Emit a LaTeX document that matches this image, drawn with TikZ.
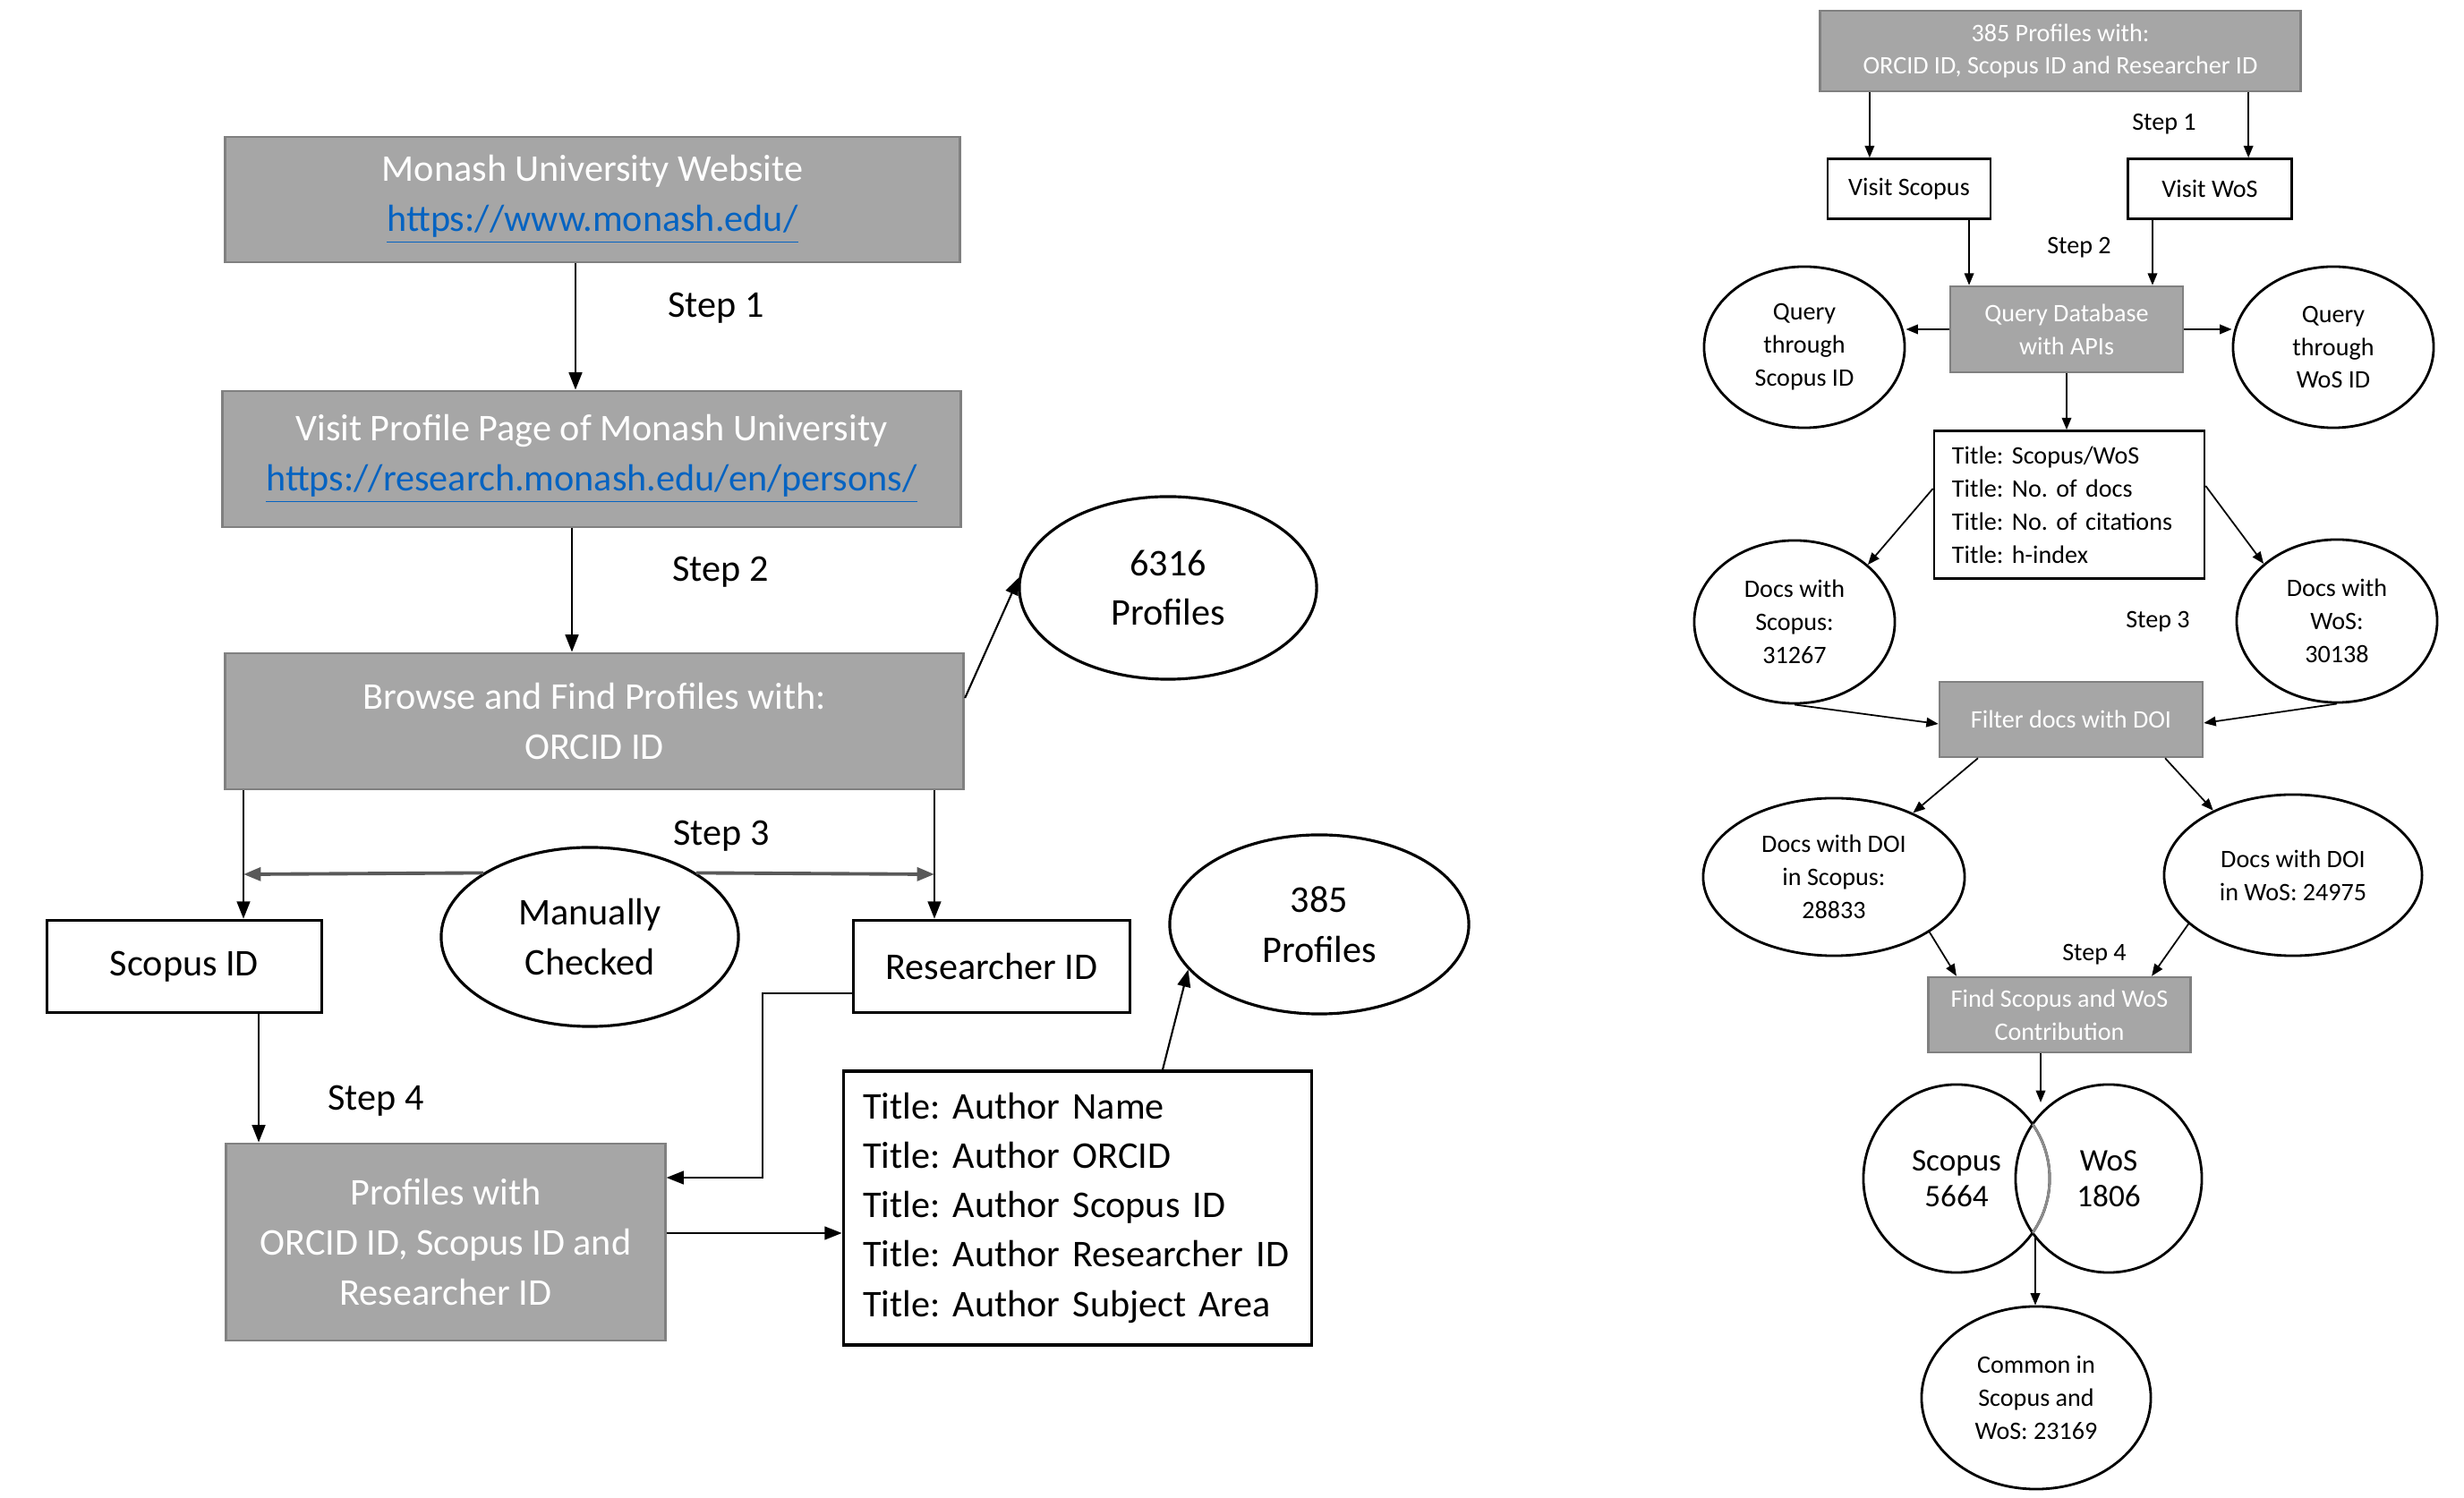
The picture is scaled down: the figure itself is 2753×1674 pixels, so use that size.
\documentclass[tikz,border=0pt]{standalone}
\usepackage{fontspec}
\setmainfont{Carlito}
\usepackage{xcolor}
\usepackage{tikz}
\usetikzlibrary{arrows.meta, shapes.geometric, calc}
\definecolor{boxgray}{RGB}{166, 166, 166}
\definecolor{boxedge}{RGB}{128, 128, 128}
\definecolor{linkblue}{RGB}{5, 99, 193}
\newcommand{\txtL}{\fontsize{12}{15.8}\selectfont}
\newcommand{\txtR}{\fontsize{8}{10.5}\selectfont}
\newcommand{\txtV}{\fontsize{10}{11.5}\selectfont}
\newcommand{\weblink}[1]{\textcolor{linkblue}{\underline{#1}}}
\frenchspacing
\tikzset{
    gbox/.style  ={draw=boxedge, line width=0.8pt, fill=boxgray, text=white,
                   align=center, inner sep=0pt, font=\txtL},
    wbox/.style  ={draw=black, line width=1pt, fill=white,
                   align=center, inner sep=0pt, font=\txtL},
    oval/.style  ={draw=black, line width=0.9pt, ellipse, inner sep=0pt,
                   align=center, font=\txtL},
    rgbox/.style ={gbox, line width=0.7pt, font=\txtR},
    rwbox/.style ={wbox, line width=0.7pt, font=\txtR},
    roval/.style ={oval, line width=0.8pt, font=\txtR},
    steplbl/.style={font=\txtL, inner sep=1pt},
    rsteplbl/.style={font=\txtR, inner sep=1pt},
    ar/.style    ={-{Triangle[length=5.5pt, width=4.2pt]}, line width=0.6pt, draw=black},
    rar/.style   ={-{Triangle[length=3.8pt, width=3pt]}, line width=0.5pt, draw=black},
    dar/.style   ={-{Triangle[length=5.5pt, width=4.2pt]}, line width=1.1pt, draw=black!65}
}

\begin{document}
\begin{tikzpicture}[x=0.01cm, y=-0.01cm]
  \useasboundingbox (0,0) rectangle (2753,1674);

  % ---- left: collecting the profiles
  \node[gbox, minimum width=8.20cm, minimum height=1.40cm] (web) at (662,223)
       {Monash University Website\\ \weblink{https://www.monash.edu/}};
  \node[gbox, minimum width=8.25cm, minimum height=1.52cm] (visit) at (661,513)
       {Visit Profile Page of Monash University\\ \weblink{https://research.monash.edu/en/persons/}};
  \node[gbox, minimum width=8.25cm, minimum height=1.52cm] (browse) at (664,806)
       {Browse and Find Profiles with:\\ORCID ID};
  \node[oval, minimum width=3.32cm, minimum height=2.04cm] (p6316) at (1305,657)
       {6316\\Profiles};
  \node[wbox, minimum width=3.07cm, minimum height=1.03cm] (sid) at (206,1080) {Scopus ID};
  \node[wbox, minimum width=3.09cm, minimum height=1.03cm] (rid) at (1108,1080) {Researcher ID};
  \node[oval, minimum width=3.32cm, minimum height=2.00cm] (mc) at (659,1047)
       {Manually\\Checked};
  \node[oval, minimum width=3.34cm, minimum height=2.00cm] (p385) at (1474,1033)
       {385\\Profiles};
  \node[gbox, minimum width=4.90cm, minimum height=2.20cm] (prof) at (498,1388)
       {Profiles with\\ORCID ID, Scopus ID and\\Researcher ID};
  \node[wbox, minimum width=5.23cm, minimum height=3.06cm, align=left,
        text width=4.79cm, inner xsep=0.22cm] (titles) at (1204,1350)
       {\fontsize{12}{15.6}\selectfont Title: Author Name\\Title: Author ORCID\\Title: Author Scopus ID\\Title: Author Researcher ID\\Title: Author Subject Area};

  \node[steplbl] (s1) at (800,344) {Step 1};
  \node[steplbl] (s2) at (805,639) {Step 2};
  \node[steplbl] (s3) at (806,934) {Step 3};
  \node[steplbl] (s4) at (420,1230) {Step 4};

  \coordinate (lft) at (272,977);
  \coordinate (rgt) at (1044,977);
  \coordinate (bend) at (852,1316);

  \draw[ar] ([xshift=-0.19cm]web.south) -- ([xshift=-0.19cm]web.south |- visit.north);
  \draw[ar] ([xshift=-0.22cm]visit.south) -- ([xshift=-0.22cm]visit.south |- browse.north);
  \draw[ar] ([yshift=0.26cm]browse.east) -- (p6316.176);
  \draw[ar] (lft |- browse.south) -- (lft |- sid.north);
  \draw[ar] (rgt |- browse.south) -- (rgt |- rid.north);
  \draw[dar] (mc.149) -- (lft);
  \draw[dar] (mc.31) -- (rgt);
  \draw[ar] ([xshift=0.83cm]sid.south) -- ([xshift=0.83cm]sid.south |- prof.north);
  \draw[ar] ([yshift=-0.30cm]rid.west) -| (bend) -- (bend -| prof.east);
  \draw[ar] ([yshift=0.10cm]prof.east) -- ([yshift=0.10cm]prof.east -| titles.west);
  \draw[ar] ([xshift=0.95cm]titles.north) -- (p385.199);

  % ---- right: querying Scopus and WoS
  \node[rgbox, minimum width=5.37cm, minimum height=0.90cm] (top) at (2302,57)
       {385 Profiles with:\\ORCID ID, Scopus ID and Researcher ID};
  \node[rwbox, minimum width=1.82cm, minimum height=0.67cm] (vs) at (2133,211) {Visit Scopus};
  \node[rwbox, minimum width=1.83cm, minimum height=0.67cm] (vw) at (2469,211) {Visit WoS};
  \node[rgbox, minimum width=2.60cm, minimum height=0.96cm] (qdb) at (2309,368)
       {Query Database\\with APIs};
  \node[roval, minimum width=2.24cm, minimum height=1.80cm] (qs) at (2016,388)
       {Query\\through\\Scopus ID};
  \node[roval, minimum width=2.24cm, minimum height=1.80cm] (qw) at (2607,388)
       {Query\\through\\WoS ID};
  \node[rwbox, minimum width=3.02cm, minimum height=1.65cm, align=left,
        text width=2.62cm, inner xsep=0.20cm] (tb) at (2312,564)
       {Title: Scopus/WoS\\Title: No. of docs\\Title: No. of citations\\Title: h-index};
  \node[roval, minimum width=2.24cm, minimum height=1.82cm] (ds) at (2005,695)
       {Docs with\\Scopus:\\31267};
  \node[roval, minimum width=2.24cm, minimum height=1.82cm] (dw) at (2611,694)
       {Docs with\\WoS:\\30138};
  \node[rgbox, minimum width=2.94cm, minimum height=0.84cm] (fd) at (2314,804)
       {Filter docs with DOI};
  \node[roval, minimum width=2.92cm, minimum height=1.76cm] (dds) at (2049,980)
       {Docs with DOI\\in Scopus:\\28833};
  \node[roval, minimum width=2.88cm, minimum height=1.80cm] (ddw) at (2562,978)
       {Docs with DOI\\in WoS: 24975};
  \node[rgbox, minimum width=2.93cm, minimum height=0.84cm] (fs) at (2301,1134)
       {Find Scopus and WoS\\Contribution};
  \node[roval, font=\txtV, minimum width=2.08cm, minimum height=2.10cm] (vsc) at (2186,1317)
       {Scopus\\5664};
  \node[roval, font=\txtV, minimum width=2.08cm, minimum height=2.10cm] (vwo) at (2356,1317)
       {WoS\\1806};
  \node[roval, minimum width=2.56cm, minimum height=2.04cm] (cm) at (2275,1562)
       {Common in\\Scopus and\\WoS: 23169};

  \begin{scope}
    \clip (vwo.center) ellipse [x radius=1.04cm, y radius=1.05cm];
    \draw[black!45, line width=0.8pt] (vsc.center) ellipse [x radius=1.04cm, y radius=1.05cm];
  \end{scope}

  \node[rsteplbl] (r1) at (2418,139) {Step 1};
  \node[rsteplbl] (r2) at (2323,277) {Step 2};
  \node[rsteplbl] (r3) at (2411,695) {Step 3};
  \node[rsteplbl] (r4) at (2340,1067) {Step 4};

  \coordinate (vtop) at (2280,1232);
  \coordinate (vbot) at (2274,1380);

  \draw[rar] ([xshift=-2.13cm]top.south) -- ([xshift=-2.13cm]top.south |- vs.north);
  \draw[rar] ([xshift=2.10cm]top.south) -- ([xshift=2.10cm]top.south |- vw.north);
  \draw[rar] ([xshift=0.67cm]vs.south) -- ([xshift=0.67cm]vs.south |- qdb.north);
  \draw[rar] ([xshift=-0.64cm]vw.south) -- ([xshift=-0.64cm]vw.south |- qdb.north);
  \draw[rar] (qdb.west) -- (qdb.west -| qs.east);
  \draw[rar] (qdb.east) -- (qdb.east -| qw.west);
  \draw[rar] (qdb.south) -- (qdb.south |- tb.north);
  \draw[rar] ([yshift=0.18cm]tb.west) -- (ds.38);
  \draw[rar] ([yshift=0.21cm]tb.east) -- (dw.142);
  \draw[rar] (ds.south) -- ([yshift=-0.05cm]fd.west);
  \draw[rar] (dw.south) -- ([yshift=-0.04cm]fd.east);
  \draw[rar] ([xshift=-1.04cm]fd.south) -- (dds.39);
  \draw[rar] ([xshift=1.05cm]fd.south) -- (ddw.141);
  \draw[rar] (dds.-30) -- ([xshift=-1.15cm]fs.north);
  \draw[rar] (ddw.205) -- ([xshift=1.03cm]fs.north);
  \draw[rar] (fs.south -| vtop) -- (vtop);
  \draw[rar] (vbot) -- (vbot |- cm.north);
\end{tikzpicture}
\end{document}
